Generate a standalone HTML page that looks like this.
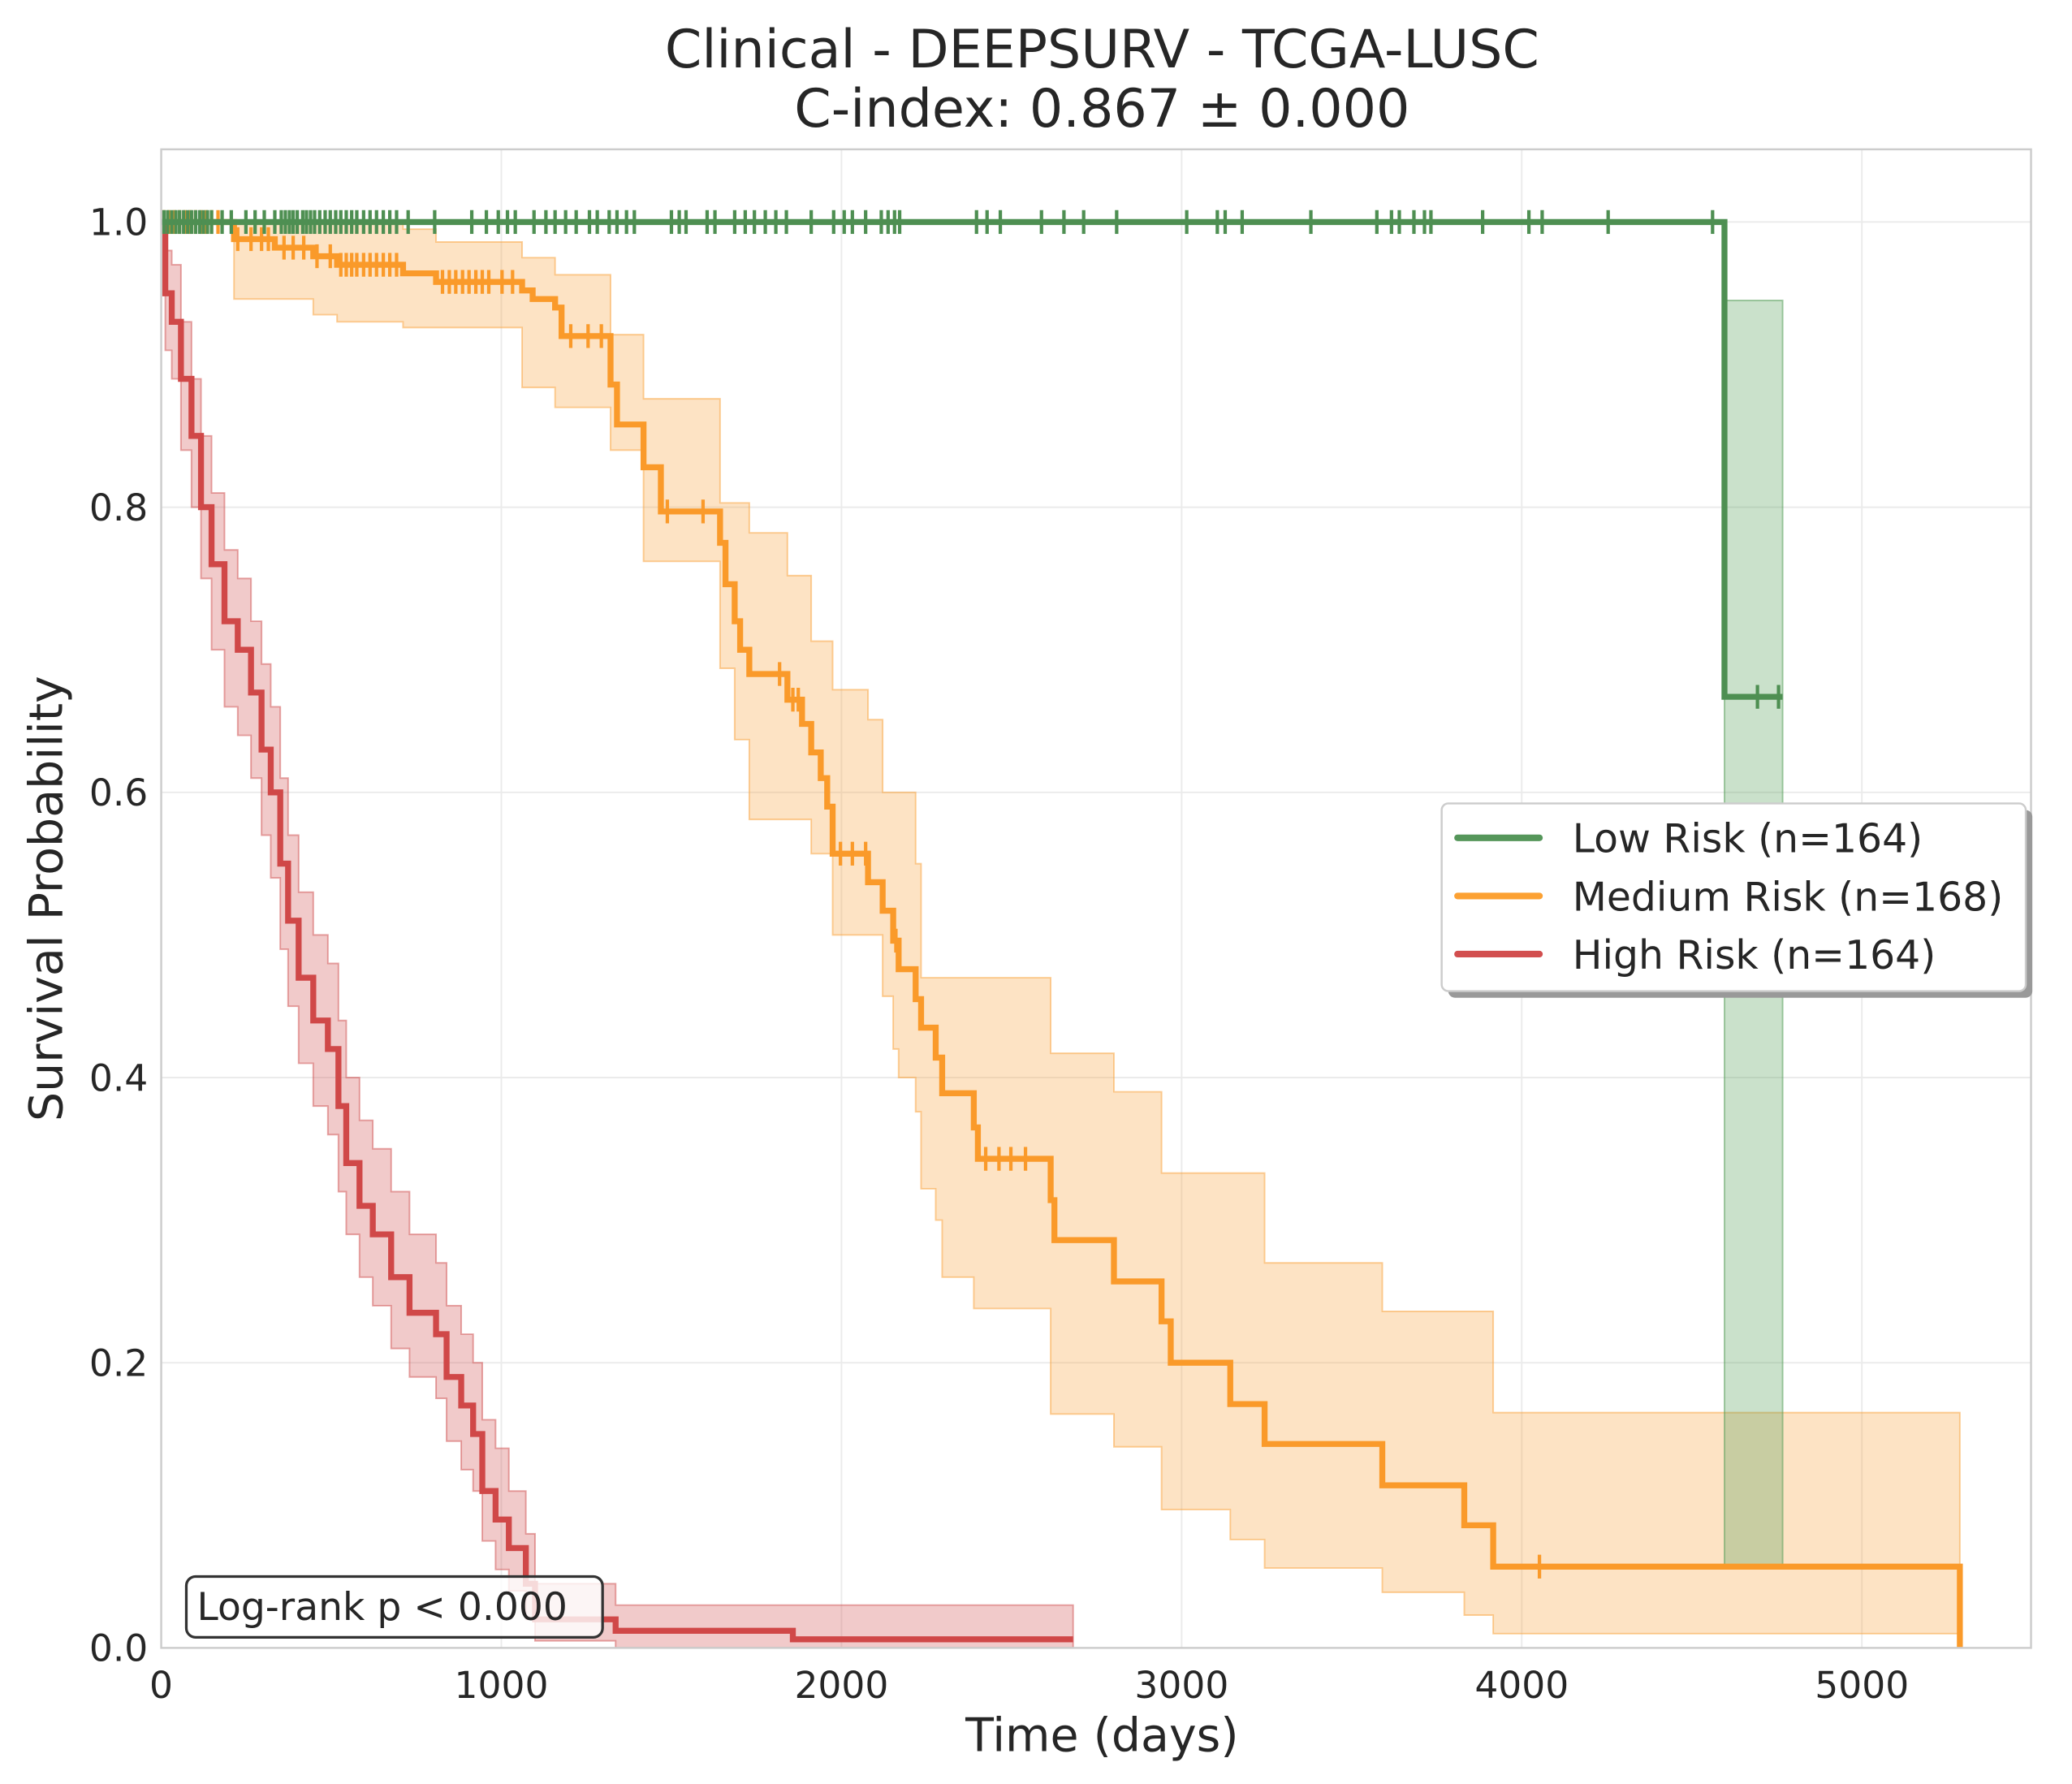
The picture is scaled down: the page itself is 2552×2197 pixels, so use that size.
<!DOCTYPE html>
<html><head><meta charset="utf-8"><style>
html,body{margin:0;padding:0;background:#fff;}
svg{display:block;font-family:"DejaVu Sans","Liberation Sans",sans-serif;}
</style></head><body>
<svg id="chart" width="2552" height="2197" viewBox="0 0 1568 1350" preserveAspectRatio="none" xmlns="http://www.w3.org/2000/svg">
<rect x="0" y="0" width="1568" height="1350" fill="#fff"/>
<g id="grid"></g>
<g id="bands"></g>
<g id="lines"></g>
<rect x="122" y="113" width="1415" height="1134" fill="none" stroke="#cccccc" stroke-width="1.5"/>
<g id="ticks" font-size="28" fill="#262626"></g>
<text x="834" y="51" text-anchor="middle" font-size="40" fill="#262626">Clinical - DEEPSURV - TCGA-LUSC</text>
<text x="834" y="96" text-anchor="middle" font-size="40" fill="#262626">C-index: 0.867 ± 0.000</text>
<text x="834" y="1325" text-anchor="middle" font-size="35" fill="#262626">Time (days)</text>
<text transform="translate(47,680) rotate(-90)" text-anchor="middle" font-size="35" fill="#262626">Survival Probability</text>
<g>
<rect x="1096" y="613" width="442" height="142" rx="5" fill="#999"/>
<rect x="1091" y="608" width="442" height="142" rx="5" fill="#fff" stroke="#cccccc" stroke-width="1.5"/>
<line x1="1103" y1="634" x2="1165" y2="634" stroke="#55965a" stroke-width="5" stroke-linecap="round"/>
<text x="1190" y="645" font-size="30" fill="#262626">Low Risk (n=164)</text>
<line x1="1103" y1="678" x2="1165" y2="678" stroke="#fca133" stroke-width="5" stroke-linecap="round"/>
<text x="1190" y="689" font-size="30" fill="#262626">Medium Risk (n=168)</text>
<line x1="1103" y1="722" x2="1165" y2="722" stroke="#d24f4f" stroke-width="5" stroke-linecap="round"/>
<text x="1190" y="733" font-size="30" fill="#262626">High Risk (n=164)</text>
</g>
<g>
<rect x="141" y="1193" width="315" height="46" rx="7" fill="#fff" fill-opacity="0.8" stroke="#333" stroke-width="2"/>
<text x="149" y="1226" font-size="29" fill="#262626">Log-rank p &lt; 0.000</text>
</g>
</svg>
<script>
const xTicks=[0,1000,2000,3000,4000,5000];
const yTicks=[0,0.2,0.4,0.6,0.8,1.0];
const lowTimes=[0,4596];
const lowSurv=[1,0.667];
const lowLo=[1,0.056];
const lowHi=[1,0.945];
const lowEnd=4767;
const lowCens=[8,19,31,43,54,66,78,89,101,113,124,136,148,179,206,249,276,303,334,353,365,377,388,400,416,427,439,451,466,482,497,513,528,544,560,575,595,614,633,653,672,692,726,804,913,956,991,1018,1041,1096,1131,1158,1189,1220,1259,1282,1317,1340,1368,1391,1500,1523,1543,1605,1628,1686,1717,1744,1776,1807,1838,1911,1977,2008,2032,2071,2117,2137,2156,2171,2397,2428,2467,2588,2654,2712,2809,3015,3105,3128,3178,3380,3574,3617,3640,3683,3714,3733,3885,4021,4060,4254,4561,4693,4755];
const medTimes=[0,214,334,447,517,711,808,1061,1092,1158,1177,1321,1340,1418,1469,1643,1659,1686,1702,1729,1841,1884,1911,1939,1958,1974,2078,2121,2152,2168,2218,2234,2277,2296,2389,2401,2615,2626,2801,2941,2968,3143,3244,3590,3831,3916,5288];
const medSurv=[1,.988,.982,.976,.970,.964,.958,.952,.946,.94,.92,.886,.858,.828,.797,.775,.746,.72,.70,.683,.665,.648,.628,.61,.59,.557,.537,.517,.496,.476,.455,.435,.414,.389,.365,.343,.314,.286,.257,.229,.2,.171,.143,.114,.086,.057,0];
const medLo=[1,.946,.946,.935,.93,.926,.926,.884,.884,.87,.87,.84,.84,.762,.762,.687,.687,.637,.637,.581,.581,.581,.557,.557,.557,.50,.50,.457,.42,.40,.376,.322,.30,.26,.238,.238,.164,.164,.141,.097,.097,.076,.056,.039,.023,.01,.01];
const medHi=[1,1,1,1,1,.995,.986,.975,.975,.963,.963,.921,.921,.876,.876,.803,.803,.803,.803,.782,.752,.752,.706,.706,.706,.672,.651,.60,.60,.60,.55,.47,.47,.47,.47,.47,.417,.417,.39,.333,.333,.333,.27,.236,.236,.165,.165];
const medEnd=5288;
const medCens=[8,23,39,54,70,85,101,117,132,148,167,225,264,295,315,361,388,419,458,497,528,544,560,575,595,614,633,653,672,692,827,847,866,886,905,925,944,963,1002,1033,1204,1255,1294,1488,1593,1818,1857,1873,1997,2032,2071,2160,2424,2463,2498,2541,4052];
const highTimes=[0,12,31,58,89,117,148,186,225,264,295,322,350,373,404,447,490,521,544,583,622,676,730,808,839,882,917,944,983,1022,1072,1099,1336,1857];
const highSurv=[1,.95,.93,.89,.85,.80,.76,.72,.70,.67,.63,.60,.55,.51,.47,.44,.42,.38,.34,.31,.29,.26,.235,.22,.19,.17,.15,.11,.09,.07,.045,.02,.012,.006];
const highLo=[1,.91,.89,.84,.80,.75,.70,.66,.64,.61,.57,.54,.49,.45,.41,.38,.36,.32,.29,.26,.24,.21,.19,.175,.145,.125,.11,.075,.055,.04,.02,.005,0,0];
const highHi=[1,.98,.97,.93,.89,.85,.81,.77,.75,.72,.69,.66,.61,.57,.53,.50,.48,.44,.40,.37,.35,.32,.29,.27,.24,.22,.20,.16,.14,.11,.08,.045,.03,.03];
const highEnd=2681;

const NS='http://www.w3.org/2000/svg';
const X=d=>122+d*0.2574;
const Y=s=>1247-s*1079;
function mk(tag,attrs,parent){const e=document.createElementNS(NS,tag);for(const k in attrs)e.setAttribute(k,attrs[k]);parent.appendChild(e);return e;}
const grid=document.getElementById('grid'),ticks=document.getElementById('ticks');
xTicks.forEach(t=>{
  const l=mk('line',{x1:X(t),x2:X(t),y1:113,y2:1247,stroke:'#ebebeb','stroke-width':1.2},grid);
  
  
  const tx=mk('text',{x:X(t),y:1285,'text-anchor':'middle'},ticks);tx.textContent=String(t);
  
  
});
yTicks.forEach(t=>{
  const l=mk('line',{x1:122,x2:1537,y1:Y(t),y2:Y(t),stroke:'#ebebeb','stroke-width':1.2},grid);
  
  
  const tx=mk('text',{x:112,y:Y(t)+10,'text-anchor':'end'},ticks);tx.textContent=t.toFixed(1);
  
  
});
function stepPts(times,vals,end){const p=[];for(let i=0;i<times.length;i++){const t2=i+1<times.length?times[i+1]:end;p.push([X(times[i]),Y(vals[i])],[X(t2),Y(vals[i])]);}return p;}
function survAt(times,vals,t){let v=vals[0];for(let i=0;i<times.length;i++){if(times[i]<=t)v=vals[i];}return v;}
const bands=document.getElementById('bands'),lines=document.getElementById('lines');
function series(name,times,surv,lo,hi,end,cens,color,fill){
  const up=stepPts(times,hi,end),dn=stepPts(times,lo,end).reverse();
  const band=mk('polygon',{points:up.concat(dn).map(p=>p.join(',')).join(' '),fill:fill,'fill-opacity':0.3,stroke:fill,'stroke-opacity':0.5,'stroke-width':1.2},bands);
  
  
  const pts=stepPts(times,surv,end);
  const path=mk('polyline',{points:pts.map(p=>p.join(',')).join(' '),fill:'none',stroke:color,'stroke-width':4.5,'stroke-linejoin':'miter'},lines);
  
  
  cens.forEach(t=>{
    const s=survAt(times,surv,t);
    const c=mk('line',{x1:X(t),x2:X(t),y1:Y(s)-9,y2:Y(s)+9,stroke:color,'stroke-width':2.6},lines);
    
    
  });
}
series('high',highTimes,highSurv,highLo,highHi,highEnd,[],'#d04848','#d05050');
series('medium',medTimes,medSurv,medLo,medHi,medEnd,medCens,'#fa9a2a','#f9a13a');
series('low',lowTimes,lowSurv,lowLo,lowHi,lowEnd,lowCens,'#4e8f52','#4e9a52');
</script>
</body></html>
